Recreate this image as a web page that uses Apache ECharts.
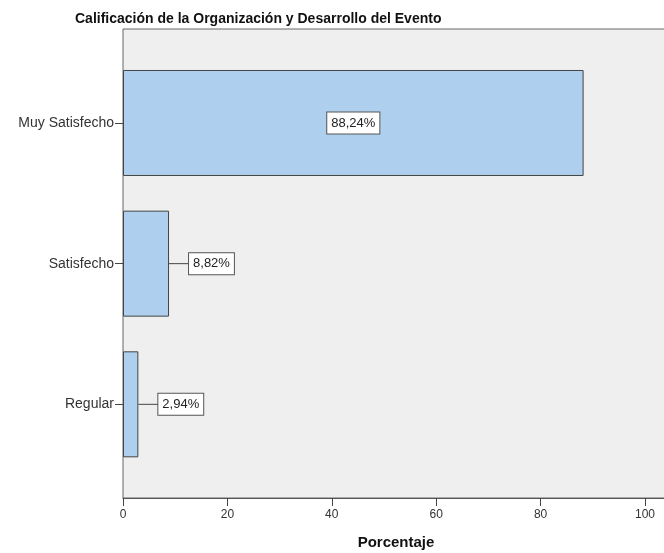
<!DOCTYPE html>
<html><head><meta charset="utf-8">
<script src="https://cdn.jsdelivr.net/npm/echarts@6/dist/echarts.min.js"></script>
<style>html,body{margin:0;padding:0;background:#fff}#c{width:664px;height:553px}</style>
</head><body><div id="c"></div>
<script>
const categories = ['Muy Satisfecho', 'Satisfecho', 'Regular'];
const percentages = [88.24, 8.82, 2.94];
const xTicks = [0, 20, 40, 60, 80, 100];
const titleText = 'Calificación de la Organización y Desarrollo del Evento';
const xName = 'Porcentaje';

const XMAX = 104.6;
const FF = 'Liberation Sans, Arial';
const fmt = v => v.toFixed(2).replace('.', ',') + '%';
const boxStyle = {backgroundColor: '#fff', borderColor: '#555', borderWidth: 1, padding: [4, 4], fontSize: 13, lineHeight: 15, color: '#222', fontFamily: FF};

const data = percentages.map((v, i) => {
  if (v > 30) {
    return {value: v, label: {show: true, position: 'inside', formatter: '{box|' + fmt(v) + '}', rich: {box: boxStyle}}};
  }
  return {value: v, label: {show: true, position: 'right', distance: 0, formatter: '{ln|}{box|' + fmt(v) + '}',
    rich: {ln: {width: 20, height: 1, backgroundColor: '#444', verticalAlign: 'middle'}, box: boxStyle}}};
});

const chart = echarts.init(document.getElementById('c'), null, {renderer: 'canvas'});
chart.setOption({
  animation: false,
  title: {text: titleText, left: 70, top: 7, textStyle: {fontSize: 14, fontWeight: 'bold', color: '#111', fontFamily: FF}},
  grid: [
    {left: 123, width: 546, top: 29, height: 469, outerBoundsMode: 'none', containLabel: false, show: true, backgroundColor: '#efefef', borderColor: '#666', borderWidth: 1},
    {left: 123, width: 546, top: 52.65, height: 422, outerBoundsMode: 'none', containLabel: false}
  ],
  xAxis: [
    {gridIndex: 0, type: 'value', min: 0, max: XMAX, interval: 20,
      name: xName, nameLocation: 'middle', nameGap: 37,
      nameTextStyle: {fontSize: 15, fontWeight: 'bold', color: '#111', fontFamily: FF},
      axisLine: {show: true, lineStyle: {color: '#555'}},
      axisTick: {show: true, length: 8, lineStyle: {color: '#444'}, customValues: xTicks},
      axisLabel: {fontSize: 12, color: '#333', margin: 11, customValues: xTicks, fontFamily: FF},
      splitLine: {show: false}},
    {gridIndex: 1, type: 'value', min: 0, max: XMAX, show: false}
  ],
  yAxis: [
    {gridIndex: 0, type: 'value', show: false},
    {gridIndex: 1, type: 'category', data: categories, inverse: true,
      axisLine: {show: false},
      axisTick: {show: true, alignWithLabel: true, length: 8, lineStyle: {color: '#444'}},
      axisLabel: {fontSize: 14, color: '#333', margin: 9, fontFamily: FF}}
  ],
  series: [{
    type: 'bar', xAxisIndex: 1, yAxisIndex: 1, data: data, barWidth: 106,
    itemStyle: {color: '#aed0ee', borderColor: '#444', borderWidth: 1}
  }]
});
</script></body></html>
